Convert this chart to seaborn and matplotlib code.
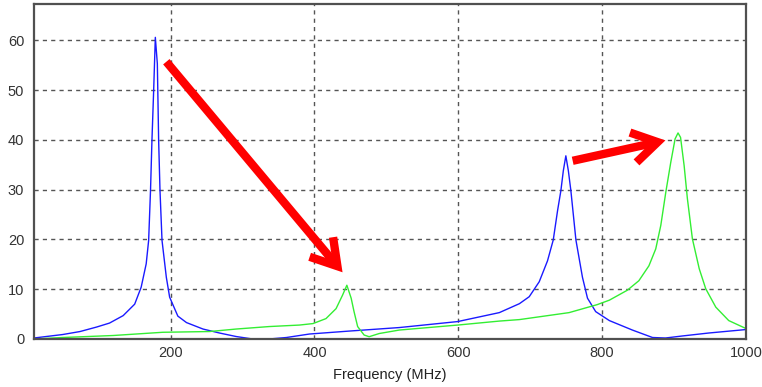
import numpy as np
import pandas as pd
import matplotlib
matplotlib.use("Agg")
import matplotlib.pyplot as plt
import seaborn as sns

# Blue trace
blue_freq = [10, 50, 74, 97, 115, 134, 150, 159, 166, 169.4, 172, 174, 176.4, 178.7,
             181.5, 183.3, 185.2, 188, 194, 198.6, 210, 222, 245, 268, 291, 314, 337,
             361, 393, 449, 518, 599, 657, 685, 698.6, 712.5, 724, 732, 738, 742.6, 746,
             749.5, 753, 756.5, 763.5, 772.6, 779.6, 791, 810, 842, 870, 888, 911, 948,
             1000]
blue_vals = [0.2, 0.9, 1.5, 2.4, 3.2, 4.7, 7.0, 10.4, 15.1, 19.8, 29.8, 39.9, 50, 60.6,
             55.3, 39.9, 29.8, 19.8, 12.4, 8.4, 4.6, 3.3, 2.0, 1.2, 0.5, 0, 0,
             0.3, 1.0, 1.6, 2.3, 3.5, 5.3, 7.1, 8.5, 11.5, 15.7, 19.9, 25.8, 29.8, 33.8,
             36.8, 33.8, 29.8, 19.9, 12.4, 8.2, 5.5, 3.7, 1.8, 0.3, 0.2, 0.6, 1.2,
             1.9]

# Green trace
green_freq = [10, 50, 120, 189, 254, 291, 337, 379, 398, 416, 430, 439, 445, 451, 455,
              460, 469, 476, 490, 518, 599, 657, 685, 754, 793, 810, 835, 851, 865, 874.5,
              881.5, 888.5, 895.4, 901.4, 905.5, 909, 914, 918.5, 925.5, 935, 944, 958,
              976, 1000]
green_vals = [0, 0.3, 0.7, 1.35, 1.5, 2.0, 2.5, 2.8, 3.1, 4.1, 6.1, 8.8, 10.8, 8.2, 5.5,
              2.5, 0.8, 0.46, 1.1, 1.8, 2.8, 3.6, 3.9, 5.3, 6.9, 7.8, 9.8, 11.7, 14.7, 18.1,
              22.8, 29.5, 35.5, 40.2, 41.4, 40.5, 34.8, 28.2, 20.1, 14.1, 10.1, 6.4,
              3.7, 2.1]

x_ticks = [200, 400, 600, 800, 1000]
y_ticks = [0, 10, 20, 30, 40, 50, 60]

# red arrows: (tail, tip) in data units
arrows = [((194, 55.7), (439, 13.4)),
          ((759, 35.8), (888, 39.9))]

sns.set_style("white")
plt.rcParams['font.family'] = ['Liberation Sans', 'DejaVu Sans']

fig = plt.figure(figsize=(7.62, 3.87), dpi=100)
ax = fig.add_axes([34 / 762, 1 - 339 / 387, (746 - 34) / 762, (339 - 4) / 387])

sns.lineplot(x=blue_freq, y=blue_vals, ax=ax, color="#1a1aff", lw=1.0, sort=False)
sns.lineplot(x=green_freq, y=green_vals, ax=ax, color="#33ee33", lw=1.0, sort=False)

ax.set_xlim(10, 1000)
ax.set_ylim(0, 67.3)
ax.set_xticks(x_ticks)
ax.set_yticks(y_ticks)
ax.grid(True, color="#555555", linestyle=(0, (3, 3)), lw=1.0)
ax.set_axisbelow(True)
ax.tick_params(length=0, labelsize=10.5, colors="#333333")
ax.tick_params(axis="y", pad=7)
ax.tick_params(axis="x", pad=5)
for sp in ax.spines.values():
    sp.set_color("#505050")
    sp.set_linewidth(1.6)
ax.set_xlabel("Frequency (MHz)", fontsize=10.5, color="#222222", labelpad=6)
ax.set_ylabel("")

for tail, tip in arrows:
    ax.annotate("", xy=tip, xytext=tail,
                arrowprops=dict(arrowstyle="->,head_length=0.9,head_width=0.55",
                                color="red", lw=6, mutation_scale=20,
                                shrinkA=0, shrinkB=0, capstyle="butt",
                                joinstyle="miter"))

fig.savefig("out.png", dpi=100)
